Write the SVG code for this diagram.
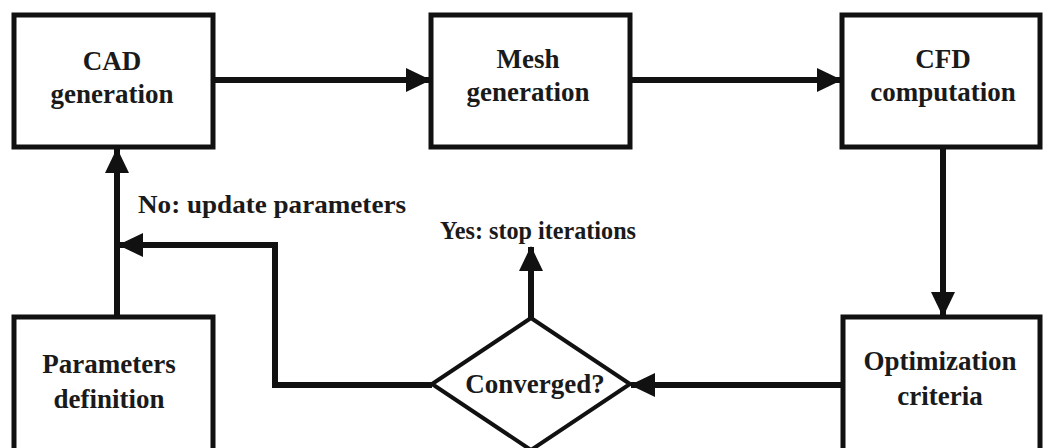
<svg xmlns="http://www.w3.org/2000/svg" width="1049" height="448" viewBox="0 0 1049 448">
<defs>
<marker id="ah" markerUnits="userSpaceOnUse" markerWidth="26" markerHeight="26" viewBox="0 0 26 26" refX="24" refY="13" orient="auto">
<path d="M0,1 L25,13 L0,25 Z" fill="#111"/>
</marker>
<style>
.box{fill:#fff;stroke:#111;stroke-width:5}
.dia{fill:#fff;stroke:#111;stroke-width:4}
.t{font-weight:bold;font-size:27px;fill:#1a1a1a;text-anchor:middle}
.lbl{font-weight:bold;fill:#1a1a1a}
.c{fill:none;stroke:#111;stroke-width:6}
</style>
</defs>
<rect width="1049" height="448" fill="#fff"/>
<g id="connectors">
<line class="c" x1="214" y1="80" x2="430" y2="80" marker-end="url(#ah)"/>
<line class="c" x1="631" y1="80" x2="841" y2="80" marker-end="url(#ah)"/>
<line class="c" x1="943" y1="148" x2="943" y2="316" marker-end="url(#ah)"/>
<line class="c" x1="842" y1="385" x2="631" y2="385" marker-end="url(#ah)"/>
<polyline class="c" points="432,385 275,385 275,245 119,245" marker-end="url(#ah)"/>
<line class="c" x1="117" y1="316" x2="117" y2="149" marker-end="url(#ah)"/>
<line class="c" x1="531" y1="318" x2="531" y2="247" marker-end="url(#ah)"/>
</g>
<g font-family="'Liberation Serif', 'DejaVu Serif', serif">
<g id="cad">
<rect class="box" x="14" y="15" width="199" height="132"/>
<text class="t" x="112" y="70">CAD</text>
<text class="t" x="112" y="103">generation</text>
</g>
<g id="mesh">
<rect class="box" x="431" y="15" width="199" height="132"/>
<text class="t" x="528" y="68">Mesh</text>
<text class="t" x="528" y="101">generation</text>
</g>
<g id="cfd">
<rect class="box" x="842" y="15" width="198" height="132"/>
<text class="t" x="943" y="68">CFD</text>
<text class="t" x="943" y="101">computation</text>
</g>
<g id="optimization">
<rect class="box" x="843" y="317" width="197" height="140"/>
<text class="t" x="940" y="370">Optimization</text>
<text class="t" x="940" y="405">criteria</text>
</g>
<g id="parameters">
<rect class="box" x="14" y="317" width="199" height="140"/>
<text class="t" x="109" y="373">Parameters</text>
<text class="t" x="109" y="408">definition</text>
</g>
<g id="converged">
<polygon class="dia" points="531,318 630,384 531,450 432,384"/>
<text class="t" x="535" y="393" font-size="26">Converged?</text>
</g>
<g id="labels">
<text class="lbl" x="138" y="213" font-size="26" textLength="268" lengthAdjust="spacingAndGlyphs">No: update parameters</text>
<text class="lbl" x="440" y="239" font-size="25" textLength="196" lengthAdjust="spacingAndGlyphs">Yes: stop iterations</text>
</g>
</g>
</svg>
